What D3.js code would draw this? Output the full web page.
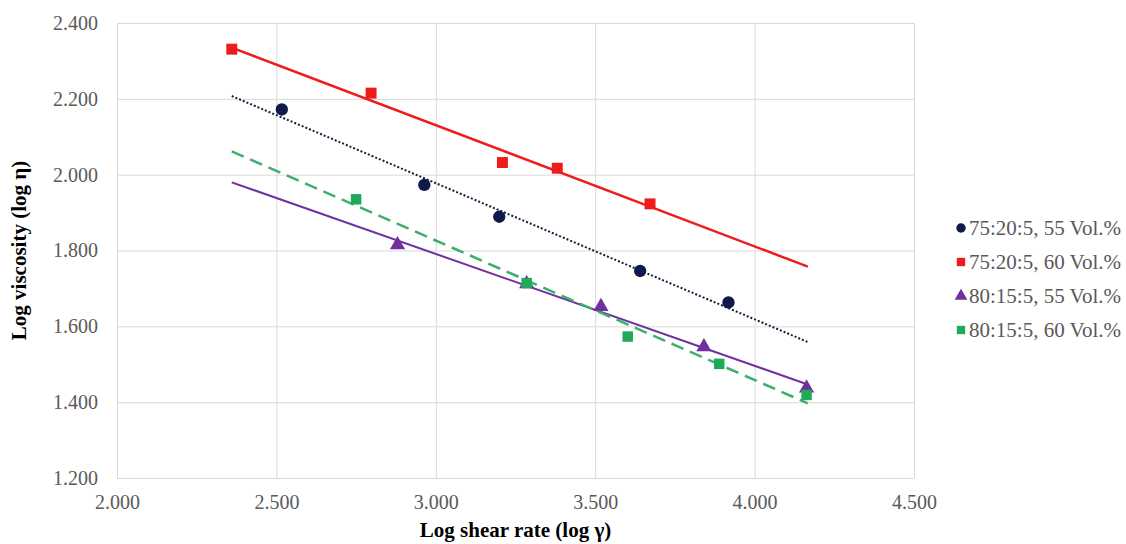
<!DOCTYPE html>
<html>
<head>
<meta charset="utf-8">
<script src="https://cdn.jsdelivr.net/npm/d3@7"></script>
<style>
  body { margin: 0; background: #fff; }
  text { font-family: "Liberation Serif", "Times New Roman", serif; }
</style>
</head>
<body>
<script>
// series (log shear rate, log viscosity)
var seriesNames = ["75:20:5, 55 Vol.%", "75:20:5, 60 Vol.%", "80:15:5, 55 Vol.%", "80:15:5, 60 Vol.%"];
var a55X = [2.517, 2.964, 3.199, 3.641, 3.918];
var a55Y = [2.172, 1.973, 1.889, 1.746, 1.663];
var a60X = [2.360, 2.797, 3.209, 3.381, 3.672];
var a60Y = [2.331, 2.215, 2.032, 2.017, 1.923];
var b55X = [2.880, 3.285, 3.518, 3.841, 4.163];
var b55Y = [1.815, 1.712, 1.652, 1.546, 1.437];
var b60X = [2.750, 3.285, 3.602, 3.889, 4.163];
var b60Y = [1.935, 1.714, 1.573, 1.501, 1.419];
var trendX = [2.36, 4.167];   // span of the trend lines
var xTicks = [2.0, 2.5, 3.0, 3.5, 4.0, 4.5];
var yTicks = [1.2, 1.4, 1.6, 1.8, 2.0, 2.2, 2.4];

var W = 1126, H = 544;
var pL = 117, pR = 914, pT = 23, pB = 478;

var svg = d3.select("body").append("svg")
    .attr("width", W)
    .attr("height", H);

var x = d3.scaleLinear().domain([2.0, 4.5]).range([pL, pR]);
var y = d3.scaleLinear().domain([1.2, 2.4]).range([pB, pT]);
var fmt = d3.format(".3f");

// grid
svg.append("g")
    .attr("transform", "translate(0," + pB + ")")
    .call(d3.axisBottom(x).tickValues(xTicks).tickSize(-(pB - pT)).tickFormat(""))
    .call(function(g) { g.select(".domain").remove(); })
    .selectAll("line").attr("stroke", "#d9d9d9");
svg.append("g")
    .attr("transform", "translate(" + pL + ",0)")
    .call(d3.axisLeft(y).tickValues(yTicks).tickSize(-(pR - pL)).tickFormat(""))
    .call(function(g) { g.select(".domain").remove(); })
    .selectAll("line").attr("stroke", "#d9d9d9");

// tick labels
var xAx = svg.append("g")
    .attr("transform", "translate(0," + pB + ")")
    .call(d3.axisBottom(x).tickValues(xTicks).tickSize(0).tickPadding(17).tickFormat(fmt));
xAx.select(".domain").remove();
xAx.selectAll("text").attr("fill", "#595959").style("font-size", "20px")
    .style("font-family", "Liberation Serif");

var yAx = svg.append("g")
    .attr("transform", "translate(" + pL + ",0)")
    .call(d3.axisLeft(y).tickValues(yTicks).tickSize(0).tickPadding(19).tickFormat(fmt));
yAx.select(".domain").remove();
yAx.selectAll("text").attr("fill", "#595959").style("font-size", "20px")
    .style("font-family", "Liberation Serif");

// axis titles
svg.append("text")
    .attr("x", (pL + pR) / 2)
    .attr("y", 537)
    .attr("text-anchor", "middle")
    .style("font-size", "21px")
    .style("font-weight", "bold")
    .text("Log shear rate (log \u03b3)");
svg.append("text")
    .attr("transform", "translate(26," + (pT + pB) / 2 + ") rotate(-90)")
    .attr("text-anchor", "middle")
    .style("font-size", "21px")
    .style("font-weight", "bold")
    .text("Log viscosity (log \u03b7)");

// least squares trend line
function fit(xs, ys) {
  var mx = d3.mean(xs), my = d3.mean(ys);
  var sxy = d3.sum(xs, function(v, i) { return (v - mx) * (ys[i] - my); });
  var sxx = d3.sum(xs, function(v) { return (v - mx) * (v - mx); });
  var b = sxy / sxx;
  return function(v) { return my + b * (v - mx); };
}

var series = [
  { xs: a55X, ys: a55Y, color: "#0e1a4b", line: "#1a1a3a", w: 2, dash: "2,2", shape: d3.symbolCircle, size: 120 },
  { xs: a60X, ys: a60Y, color: "#ee1c1c", line: "#ee1c1c", w: 2.5, dash: null, shape: d3.symbolSquare, size: 120 },
  { xs: b55X, ys: b55Y, color: "#7030a0", line: "#7030a0", w: 2, dash: null, shape: d3.symbolTriangle, size: 100 },
  { xs: b60X, ys: b60Y, color: "#1faa5a", line: "#3cb06a", w: 2.5, dash: "13,7", shape: d3.symbolSquare, size: 110 }
];

var lineGen = d3.line().x(function(d) { return x(d[0]); }).y(function(d) { return y(d[1]); });

series.forEach(function(s) {
  var f = fit(s.xs, s.ys);
  svg.append("path")
      .datum(trendX.map(function(v) { return [v, f(v)]; }))
      .attr("d", lineGen)
      .attr("fill", "none")
      .attr("stroke", s.line)
      .attr("stroke-width", s.w)
      .attr("stroke-dasharray", s.dash);
});

series.forEach(function(s) {
  svg.append("g").selectAll("path")
      .data(s.xs.map(function(v, i) { return [v, s.ys[i]]; }))
      .join("path")
      .attr("transform", function(d) { return "translate(" + x(d[0]) + "," + y(d[1]) + ")"; })
      .attr("d", d3.symbol().type(s.shape).size(s.size))
      .attr("fill", s.color);
});

// legend
var leg = svg.append("g").attr("transform", "translate(961,228)");
seriesNames.forEach(function(name, i) {
  var s = series[i];
  var row = leg.append("g").attr("transform", "translate(0," + i * 34 + ")");
  row.append("path")
      .attr("d", d3.symbol().type(s.shape).size(70))
      .attr("fill", s.color);
  row.append("text")
      .attr("x", 8)
      .attr("y", 7)
      .attr("fill", "#595959")
      .style("font-size", "21px")
      .text(name);
});
</script>
</body>
</html>
